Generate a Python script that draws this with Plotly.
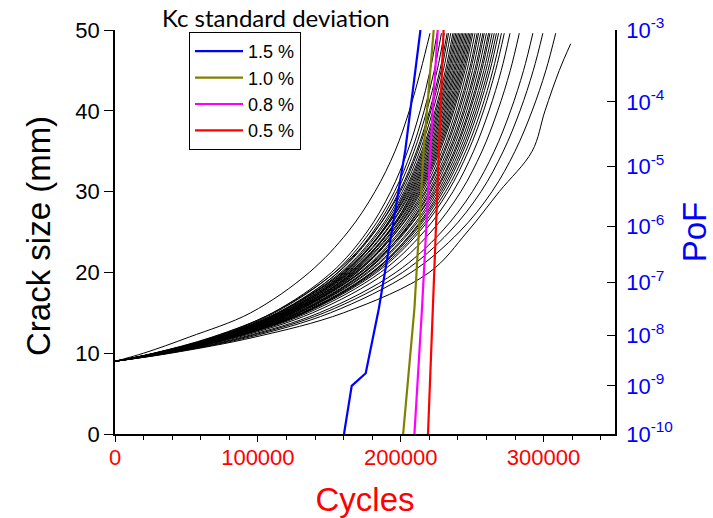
import math
import plotly.graph_objects as go

# ---------------- data ----------------
# crack size (mm) at which the cycle counts below are read
crack_sizes = [9, 10, 12, 15, 20, 25, 30, 35, 40, 45, 49.6]

# cycles (thousands) needed to reach each crack size, one list per simulated run
run_01 = [0, 20.0, 52.0, 95.0, 136.0, 163.0, 182.0, 196.0, 206.0, 214.0, 220.5]
run_02 = [0, 27.6, 68.9, 110.3, 151.6, 176.3, 193.0, 204.8, 213.6, 220.6, 225.5]
run_03 = [0, 27.9, 69.8, 111.8, 153.7, 178.6, 195.6, 207.5, 216.4, 223.5, 228.5]
run_04 = [0, 29.0, 72.5, 115.0, 156.0, 180.5, 197.3, 209.3, 218.3, 225.5, 230.5]
run_05 = [0, 28.4, 71.1, 113.7, 156.3, 181.7, 199.0, 211.1, 220.2, 227.4, 232.5]
run_06 = [0, 27.0, 68.0, 110.5, 154.0, 181.5, 199.8, 212.0, 221.1, 228.4, 233.5]
run_07 = [0, 28.7, 71.8, 114.9, 158.0, 183.7, 201.1, 213.4, 222.5, 229.8, 235.0]
run_08 = [0, 28.9, 72.3, 115.7, 159.0, 184.9, 202.4, 214.7, 224.0, 231.3, 236.5]
run_09 = [0, 30.0, 75.0, 119.0, 161.5, 186.5, 203.3, 215.6, 224.9, 232.3, 237.5]
run_10 = [0, 29.2, 72.9, 116.6, 160.4, 186.4, 204.1, 216.5, 225.9, 233.3, 238.5]
run_11 = [0, 29.3, 73.2, 117.1, 161.0, 187.2, 205.0, 217.4, 226.8, 234.2, 239.5]
run_12 = [0, 28.0, 70.5, 114.0, 159.5, 187.0, 205.8, 218.3, 227.7, 235.2, 240.5]
run_13 = [0, 29.5, 73.8, 118.1, 162.4, 188.8, 206.7, 219.3, 228.7, 236.2, 241.5]
run_14 = [0, 29.6, 74.1, 118.6, 163.1, 189.5, 207.5, 220.2, 229.6, 237.2, 242.5]
run_15 = [0, 31.0, 77.0, 122.5, 166.0, 191.5, 208.4, 221.1, 230.6, 238.1, 243.5]
run_16 = [0, 29.9, 74.7, 119.6, 164.4, 191.1, 209.2, 222.0, 231.5, 239.1, 244.5]
run_17 = [0, 30.0, 75.0, 120.0, 165.1, 191.9, 210.1, 222.9, 232.5, 240.1, 245.5]
run_18 = [0, 29.0, 73.0, 117.5, 164.0, 192.0, 210.9, 223.8, 233.4, 241.1, 246.5]
run_19 = [0, 30.3, 75.6, 121.0, 166.4, 193.4, 211.8, 224.7, 234.4, 242.0, 247.5]
run_20 = [0, 30.4, 75.9, 121.5, 167.1, 194.2, 212.6, 225.6, 235.3, 243.0, 248.5]
run_21 = [0, 31.5, 78.5, 124.5, 169.5, 195.5, 213.5, 226.5, 236.3, 244.0, 249.5]
run_22 = [0, 30.6, 76.6, 122.5, 168.4, 195.8, 214.4, 227.4, 237.2, 245.0, 250.5]
run_23 = [0, 30.8, 77.0, 123.2, 169.4, 197.0, 215.6, 228.8, 238.6, 246.4, 252.0]
run_24 = [0, 29.5, 74.5, 120.5, 168.0, 197.0, 216.9, 230.1, 240.0, 247.9, 253.5]
run_25 = [0, 31.1, 77.8, 124.4, 171.1, 198.9, 217.8, 231.0, 241.0, 248.9, 254.5]
run_26 = [0, 31.3, 78.2, 125.2, 172.1, 200.1, 219.1, 232.4, 242.4, 250.3, 256.0]
run_27 = [0, 32.5, 81.0, 128.5, 174.5, 201.5, 220.3, 233.7, 243.8, 251.8, 257.5]
run_28 = [0, 31.6, 79.0, 126.4, 173.8, 202.0, 221.2, 234.7, 244.8, 252.8, 258.5]
run_29 = [0, 31.8, 79.5, 127.1, 174.8, 203.2, 222.5, 236.0, 246.2, 254.2, 260.0]
run_30 = [0, 30.5, 76.5, 123.0, 172.0, 202.5, 223.7, 237.4, 247.6, 255.7, 261.5]
run_31 = [0, 32.1, 80.2, 128.3, 176.5, 205.1, 224.6, 238.3, 248.5, 256.7, 262.5]
run_32 = [0, 32.3, 80.7, 129.1, 177.5, 206.3, 225.9, 239.6, 250.0, 258.2, 264.0]
run_33 = [0, 33.5, 83.5, 132.5, 180.0, 208.0, 227.2, 241.0, 251.4, 259.6, 265.5]
run_34 = [0, 32.6, 81.6, 130.5, 179.5, 208.7, 228.4, 242.4, 252.8, 261.1, 267.0]
run_35 = [0, 32.8, 82.0, 131.3, 180.5, 209.8, 229.7, 243.7, 254.2, 262.5, 268.5]
run_36 = [0, 33.1, 82.7, 132.2, 181.8, 211.4, 231.4, 245.5, 256.1, 264.5, 270.5]
run_37 = [0, 33.3, 83.3, 133.2, 183.2, 212.9, 233.1, 247.3, 258.0, 266.4, 272.5]
run_38 = [0, 33.8, 84.5, 135.2, 185.9, 216.1, 236.6, 251.0, 261.8, 270.4, 276.5]
run_39 = [0, 34.6, 86.5, 138.3, 190.2, 221.1, 242.1, 256.9, 267.9, 276.7, 283.0]
run_40 = [0, 35.7, 89.4, 143.0, 196.6, 228.5, 250.2, 265.5, 276.9, 286.0, 292.5]
run_41 = [0, 36.6, 91.5, 146.4, 201.3, 234.0, 256.2, 271.8, 283.5, 292.8, 299.5]
run_42 = [0, 37.7, 94.2, 150.8, 207.3, 241.0, 263.9, 280.0, 292.0, 301.6, 308.5]

# slowest run stops short of 50 mm
slow_sizes = [9, 10, 12, 15, 20, 25, 30, 35, 40, 45, 48.3]
slow_cycles_k = [0, 39.0, 98.0, 160.0, 220.0, 246.5, 269.0, 292.0, 301.0, 311.0, 319.0]

# probability of failure curves (Kc standard deviation)
pof_labels = ["1.5 %", "1.0 %", "0.8 %", "0.5 %"]
pof_colors = ["#0000FF", "#808000", "#FF00FF", "#FF0000"]
cycles_15 = [160300, 165700, 175500, 184700, 194000, 203300, 213800]
pof_15 = [1e-10, 1.0e-9, 1.8e-9, 3.3e-8, 9e-7, 1.9e-5, 1e-3]
cycles_10 = [201700, 209600, 216100, 223100]
pof_10 = [1e-10, 3.3e-8, 1.9e-5, 1e-3]
cycles_08 = [209600, 214900, 220800, 225900]
pof_08 = [1e-10, 3.3e-8, 1.9e-5, 1e-3]
cycles_05 = [219100, 222400, 226600, 230000]
pof_05 = [1e-10, 3.3e-8, 1.9e-5, 1e-3]

pof_exponents = [3, 4, 5, 6, 7, 8, 9, 10]

# ---------------- figure ----------------
runs = [run_01, run_02, run_03, run_04, run_05, run_06, run_07, run_08, run_09, run_10,
        run_11, run_12, run_13, run_14, run_15, run_16, run_17, run_18, run_19, run_20,
        run_21, run_22, run_23, run_24, run_25, run_26, run_27, run_28, run_29, run_30,
        run_31, run_32, run_33, run_34, run_35, run_36, run_37, run_38, run_39, run_40,
        run_41, run_42]

FONT = "Liberation Sans, Arial, sans-serif"


def pof_scale(p):
    # the PoF axis of the original is linear in (-log10 PoF)^0.6
    return (-math.log10(p)) ** 0.6


fig = go.Figure()

for run in runs:
    fig.add_trace(go.Scatter(
        x=[c * 1000 for c in run], y=crack_sizes, mode="lines",
        line=dict(color="black", width=1, shape="spline"),
        showlegend=False, hoverinfo="skip"))
fig.add_trace(go.Scatter(
    x=[c * 1000 for c in slow_cycles_k], y=slow_sizes, mode="lines",
    line=dict(color="black", width=1, shape="spline"),
    showlegend=False, hoverinfo="skip"))

pof_sets = [(cycles_15, pof_15), (cycles_10, pof_10), (cycles_08, pof_08), (cycles_05, pof_05)]
for (cx, py), lab, col in zip(pof_sets, pof_labels, pof_colors):
    fig.add_trace(go.Scatter(
        x=cx, y=[pof_scale(p) for p in py], yaxis="y2", mode="lines",
        name=lab, legendgroup=lab,
        line=dict(color=col, width=2.2)))

fig.update_layout(
    width=713, height=518,
    margin=dict(l=115, r=98, t=30, b=84, autoexpand=False),
    paper_bgcolor="white", plot_bgcolor="white",
    font=dict(family=FONT, size=22, color="black"),
    xaxis=dict(
        range=[0, 350000], tick0=0, dtick=100000, tickformat="d",
        ticks="outside", ticklen=6, tickwidth=1.2, tickcolor="black",
        showline=True, linecolor="black", linewidth=1.5,
        showgrid=False, zeroline=False, automargin=False, ticklabelstandoff=-3,
        tickfont=dict(size=22, color="#FF0000", family=FONT),
        title=dict(text="Cycles", font=dict(size=33, color="#FF0000", family=FONT), standoff=19),
        minor=dict(dtick=20000, tick0=0, ticks="outside", ticklen=4, tickcolor="black", showgrid=False),
    ),
    yaxis=dict(
        range=[0, 50], dtick=10, ticks="outside", ticklen=9, tickwidth=1.2, tickcolor="black",
        showline=True, linecolor="black", linewidth=1.5,
        showgrid=False, zeroline=False, automargin=False,
        tickfont=dict(size=22, color="black", family=FONT),
    ),
    yaxis2=dict(
        overlaying="y", side="right", anchor="x", automargin=False,
        range=[pof_scale(1e-10), pof_scale(1e-3)],
        tickvals=[pof_scale(10.0 ** (-k)) for k in pof_exponents],
        ticktext=["10<sup>-%d</sup>" % k for k in pof_exponents],
        ticks="inside", ticklen=8, tickwidth=1.2, tickcolor="black",
        showline=True, linecolor="black", linewidth=1.5,
        showgrid=False, zeroline=False, ticklabelstandoff=5,
        tickfont=dict(size=22, color="#0000FF", family=FONT),
        title=dict(text="PoF", font=dict(size=33, color="#0000FF", family=FONT), standoff=13),
    ),
    legend=dict(
        x=0.148, y=0.995, xanchor="left", yanchor="top",
        bgcolor="white", bordercolor="black", borderwidth=1,
        font=dict(size=18, color="black", family=FONT),
        tracegroupgap=7, traceorder="normal", itemwidth=48,
    ),
    annotations=[
        dict(text="Kc standard deviation", xref="paper", yref="paper",
             x=0.322, y=1.032, xanchor="center", yanchor="middle", showarrow=False,
             font=dict(size=24, color="black", family="Lato, Liberation Sans, sans-serif")),
        dict(text="Crack size (mm)", xref="paper", yref="paper",
             x=-0.154, y=0.49, xanchor="center", yanchor="middle", showarrow=False,
             textangle=-90,
             font=dict(size=33, color="black", family=FONT)),
    ],
)

fig.write_html("out.html", config={"displayModeBar": False},
               post_script="document.body.style.margin='0';")
